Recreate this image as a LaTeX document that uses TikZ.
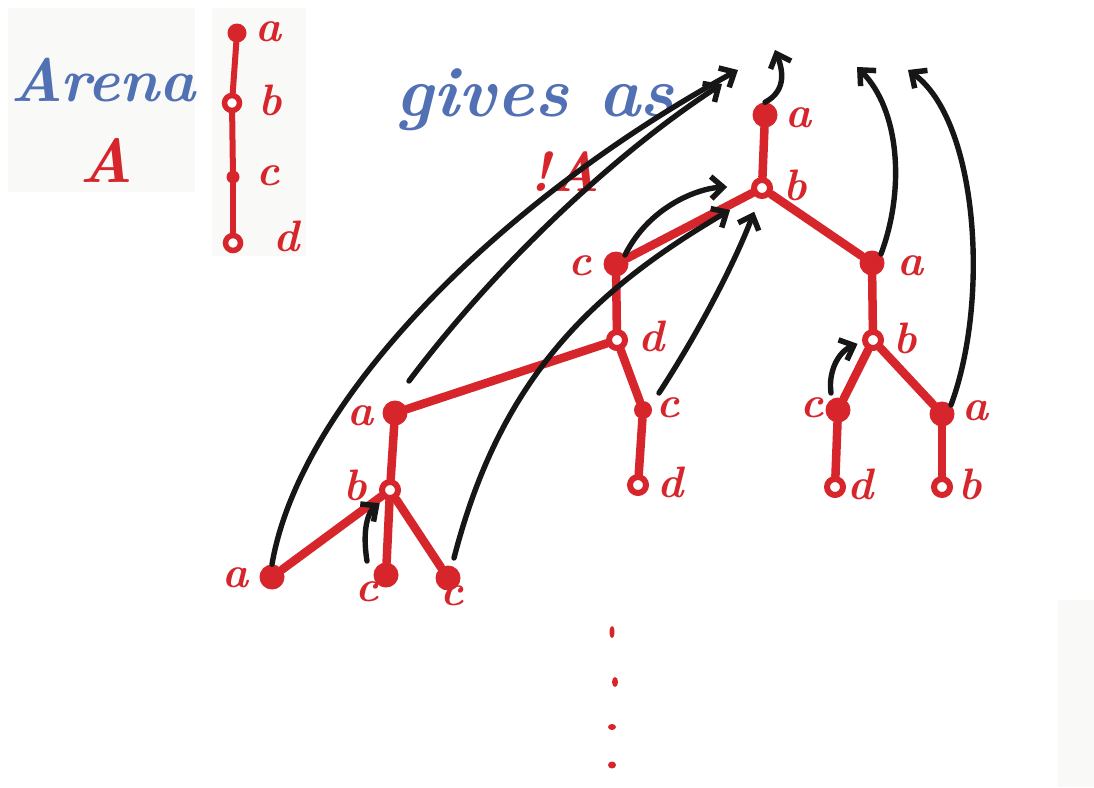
\documentclass[tikz,border=0pt]{standalone}
\usetikzlibrary{arrows.meta}
\definecolor{pen}{RGB}{214,38,44}
\definecolor{ink}{RGB}{82,112,180}
\definecolor{ptr}{RGB}{22,22,22}
\definecolor{paper}{RGB}{249,249,247}
\begin{document}
\begin{tikzpicture}[x=1pt,y=-1pt,
  omove/.style={circle,fill=pen,inner sep=0pt,minimum size=25pt},
  pmove/.style={circle,draw=pen,fill=white,line width=6pt,inner sep=0pt,minimum size=16pt},
  somove/.style={circle,fill=pen,inner sep=0pt,minimum size=19pt},
  spmove/.style={circle,draw=pen,fill=white,line width=5.5pt,inner sep=0pt,minimum size=15pt},
  tedge/.style={draw=pen,line width=8.5pt,line cap=round},
  sedge/.style={draw=pen,line width=6pt,line cap=round},
  lab/.style={text=pen,font=\fontsize{44}{44}\selectfont\bfseries\itshape,inner sep=0pt},
  pointer/.style={draw=ptr,line width=5.4pt,line cap=round,
    -{Straight Barb[length=12pt,width=22pt,line width=5.5pt]}},
]
\useasboundingbox (0,0) rectangle (1094,787);
\fill[white] (0,0) rectangle (1094,787);

% faint paper patches
\fill[paper] (8,8) rectangle (195,192);
\fill[paper] (212,8) rectangle (306,256);
\fill[paper] (1058,600) rectangle (1094,787);

% headings
\node[text=ink,font=\fontsize{61}{61}\selectfont\bfseries\itshape,inner sep=0pt] (arena) at (103,80) {Arena};
\node[text=pen,font=\fontsize{62}{62}\selectfont\bfseries\itshape,inner sep=0pt] (bigA) at (106,160) {A};
\node[text=ink,font=\fontsize{71}{71}\selectfont\bfseries\itshape,inner sep=0pt] (gives) at (535,100) {gives as};
\node[text=pen,font=\fontsize{56}{56}\selectfont\bfseries\itshape,inner sep=0pt] (bangA) at (565,172) {!A};

% the arena A: a chain a - b - c - d
\node[somove] (Aa) at (237,33) {};
\node[spmove] (Ab) at (232,103) {};
\node[somove,minimum size=13pt] (Ac) at (233,177) {};
\node[spmove] (Ad) at (233,243) {};
\draw[sedge] (Aa) -- (Ab);
\draw[sedge] (Ab) -- (Ac);
\draw[sedge] (Ac) -- (Ad);
\node[lab] at (268,32) {a};
\node[lab] at (270,100) {b};
\node[lab] at (268,176) {c};
\node[lab] at (286,236) {d};

% the tree of !A
\node[omove] (ra) at (765,115) {};
\node[pmove] (rb) at (762,188) {};
\node[omove] (c1) at (616,264) {};
\node[omove] (a2) at (872,263) {};
\node[pmove] (d1) at (617,340) {};
\node[omove,minimum size=18pt] (c3) at (643,410) {};
\node[pmove] (d3) at (638,485) {};
\node[pmove] (b2) at (873,340) {};
\node[omove] (c2) at (838,410) {};
\node[omove] (a4) at (942,414) {};
\node[pmove] (d2) at (835,487) {};
\node[pmove] (b4) at (942,487) {};
\node[omove] (a1) at (395,413) {};
\node[pmove] (b1) at (390,490) {};
\node[omove] (a3) at (272,577) {};
\node[omove] (c4) at (386,575) {};
\node[omove] (c5) at (448,578) {};

\draw[tedge] (ra) -- (rb);
\draw[tedge] (rb) -- (c1);
\draw[tedge] (rb) -- (a2);
\draw[tedge] (c1) -- (d1);
\draw[tedge] (d1) -- (a1);
\draw[tedge] (d1) -- (c3);
\draw[tedge] (c3) -- (d3);
\draw[tedge] (a2) -- (b2);
\draw[tedge] (b2) -- (c2);
\draw[tedge] (b2) -- (a4);
\draw[tedge] (c2) -- (d2);
\draw[tedge] (a4) -- (b4);
\draw[tedge] (a1) -- (b1);
\draw[tedge] (b1) -- (a3);
\draw[tedge] (b1) -- (c4);
\draw[tedge] (b1) -- (c5);

% move labels
\node[lab] at (798,118) {a};
\node[lab] at (795,185) {b};
\node[lab] at (580,266) {c};
\node[lab] at (910,266) {a};
\node[lab] at (651,336) {d};
\node[lab] at (668,408) {c};
\node[lab] at (670,482) {d};
\node[lab] at (905,338) {b};
\node[lab] at (812,408) {c};
\node[lab] at (975,411) {a};
\node[lab] at (860,484) {d};
\node[lab] at (970,484) {b};
\node[lab] at (360,416) {a};
\node[lab] at (355,485) {b};
\node[lab] at (235,578) {a};
\node[lab] at (367,592) {c};
\node[lab] at (452,596) {c};

% free ends of the pointers at the top
\coordinate (t1) at (775,50);
\coordinate (t2) at (857,67);
\coordinate (t3) at (908,70);
\coordinate (t4) at (738,70);
\coordinate (t5) at (722,84);

% justification pointers
\draw[pointer] (ra.north) .. controls (788,90) and (782,68) .. (t1);
\draw[pointer] (a2.north east) .. controls (905,190) and (900,110) .. (t2);
\draw[pointer] (a4.north east) .. controls (990,300) and (978,120) .. (t3);
\draw[pointer] (a3.north) .. controls (300,400) and (500,200) .. (t4);
\draw[pointer] ([shift={(14,-32)}]a1.center) .. controls (500,260) and (620,150) .. (t5);
\draw[pointer,shorten >=24pt] (c1.north east) .. controls (650,205) and (700,188) .. (rb.170);
\draw[pointer,shorten >=28pt] ([shift={(6,-20)}]c5.center) .. controls (500,380) and (590,292) .. (rb.225);
\draw[pointer,shorten >=14pt] ([shift={(16,-17)}]c3.center) .. controls (700,330) and (735,262) .. (rb.255);
\draw[pointer,shorten >=6pt] ([shift={(-19,-14)}]c4.center) .. controls (362,530) and (368,512) .. (b1.240);
\draw[pointer,shorten >=5pt] ([shift={(-7,-17)}]c2.center) .. controls (828,372) and (838,352) .. (b2.190);

% stray marks below the tree
\fill[pen] (612,632) ellipse (2.5pt and 6pt);
\fill[pen] (615,682) ellipse (3pt and 5pt);
\fill[pen] (612,727) ellipse (4pt and 3pt);
\fill[pen] (612,765) ellipse (4pt and 3.5pt);
\end{tikzpicture}
\end{document}
